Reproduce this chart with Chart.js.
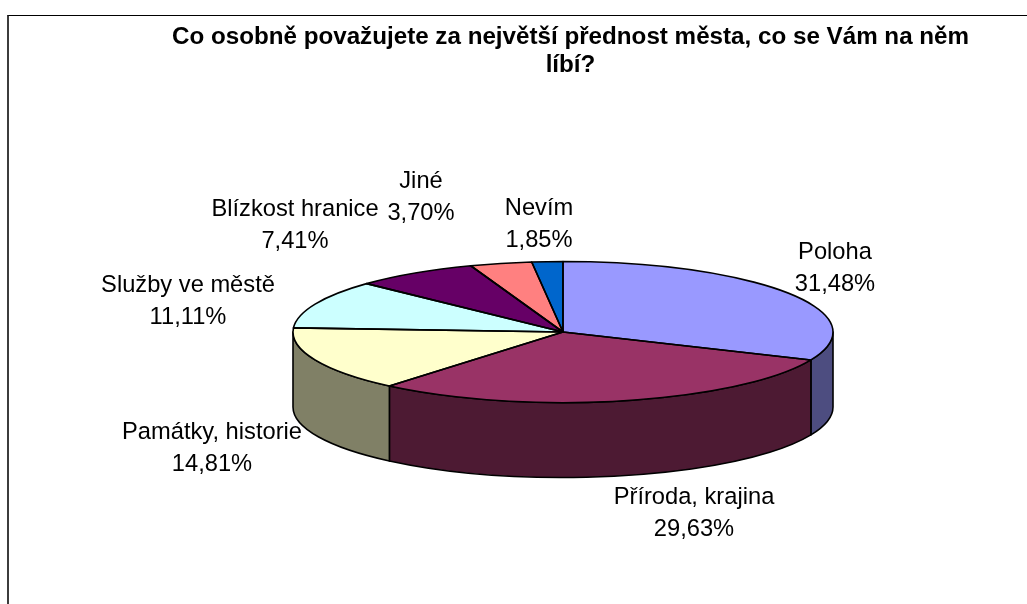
<!DOCTYPE html>
<html>
<head>
<meta charset="utf-8">
<style>
html,body{margin:0;padding:0;background:#fff;width:1027px;height:604px;overflow:hidden}
#frame{position:absolute;left:7px;top:15px;right:0;bottom:0;border-left:2px solid #3c3c3c;border-top:1px solid #000}
canvas{position:absolute;left:0;top:0}
</style>
<script src="https://cdn.jsdelivr.net/npm/chart.js@4"></script>
</head>
<body>
<div id="frame"></div>
<canvas id="c" width="1027" height="604"></canvas>
<script>
const categories = ['Poloha','Příroda, krajina','Památky, historie','Služby ve městě','Blízkost hranice','Jiné','Nevím'];
const shares = [31.48,29.63,14.81,11.11,7.41,3.70,1.85];
const topColours = ['#9999ff','#993366','#ffffcc','#ccffff','#660066','#ff8080','#0066cc'];
const wallColours = ['#4d4d80','#4d1a33','#808066','#668080','#330033','#804040','#003366'];
const titleLines = ['Co osobně považujete za největší přednost města, co se Vám na něm','líbí?'];
const labelCentreX = [835,694,212,188,295,421,539];
const labelFirstLineY = [252,497,432,285,209,181,208];

const PIE = {x:563, y:332, rx:270, ry:70.5, depth:75};
const LINE_H = 32;
const FONT = '"Liberation Sans", Arial, sans-serif';

const pie3d = {
  id:'pie3d',
  beforeDatasetsDraw(chart){
    const ctx = chart.ctx, arcs = chart.getDatasetMeta(0).data;
    ctx.save();
    ctx.lineWidth = 1.6; ctx.strokeStyle = '#000'; ctx.lineJoin='round';
    arcs.forEach((a,i)=>{
      const s = Math.max(a.startAngle,0), e = Math.min(a.endAngle,Math.PI);
      if(e<=s) return;
      ctx.beginPath();
      ctx.ellipse(PIE.x,PIE.y,PIE.rx,PIE.ry,0,s,e);
      ctx.ellipse(PIE.x,PIE.y+PIE.depth,PIE.rx,PIE.ry,0,e,s,true);
      ctx.closePath();
      ctx.fillStyle = wallColours[i];
      ctx.fill(); ctx.stroke();
    });
    ctx.restore();
    const a0 = arcs[0];
    ctx.save();
    ctx.translate(PIE.x,PIE.y);
    ctx.scale(1,PIE.ry/PIE.rx);
    ctx.translate(-a0.x,-a0.y);
  },
  afterDatasetsDraw(chart){
    const ctx = chart.ctx, arcs = chart.getDatasetMeta(0).data;
    ctx.restore();
    ctx.save();
    ctx.lineWidth = 1.6; ctx.strokeStyle = '#000'; ctx.lineJoin='round';
    arcs.forEach(a=>{
      ctx.beginPath();
      ctx.moveTo(PIE.x,PIE.y);
      ctx.ellipse(PIE.x,PIE.y,PIE.rx,PIE.ry,0,a.startAngle,a.endAngle);
      ctx.closePath();
      ctx.stroke();
    });
    ctx.restore();
  },
  afterDraw(chart){
    const ctx = chart.ctx;
    ctx.save();
    ctx.fillStyle='#000'; ctx.font='23.7px '+FONT; ctx.textAlign='center'; ctx.textBaseline='middle';
    categories.forEach((c,i)=>{
      ctx.fillText(c,labelCentreX[i],labelFirstLineY[i]);
      ctx.fillText(shares[i].toFixed(2).replace('.',',')+'%',labelCentreX[i],labelFirstLineY[i]+LINE_H);
    });
    ctx.restore();
  }
};

new Chart(document.getElementById('c'),{
  type:'pie',
  data:{labels:categories,datasets:[{data:shares,backgroundColor:topColours,borderWidth:0,clip:false,radius:PIE.rx}]},
  options:{
    responsive:false,animation:false,
    rotation:0,
    layout:{padding:{left:114,right:0,top:0,bottom:0}},
    plugins:{
      legend:{display:false},tooltip:{enabled:false},
      title:{display:true,text:titleLines,color:'#000',align:'center',
        font:{family:FONT,size:24.2,weight:'bold',lineHeight:1.16},
        padding:{top:23,bottom:0}}
    }
  },
  plugins:[pie3d]
});
</script>
</body>
</html>
